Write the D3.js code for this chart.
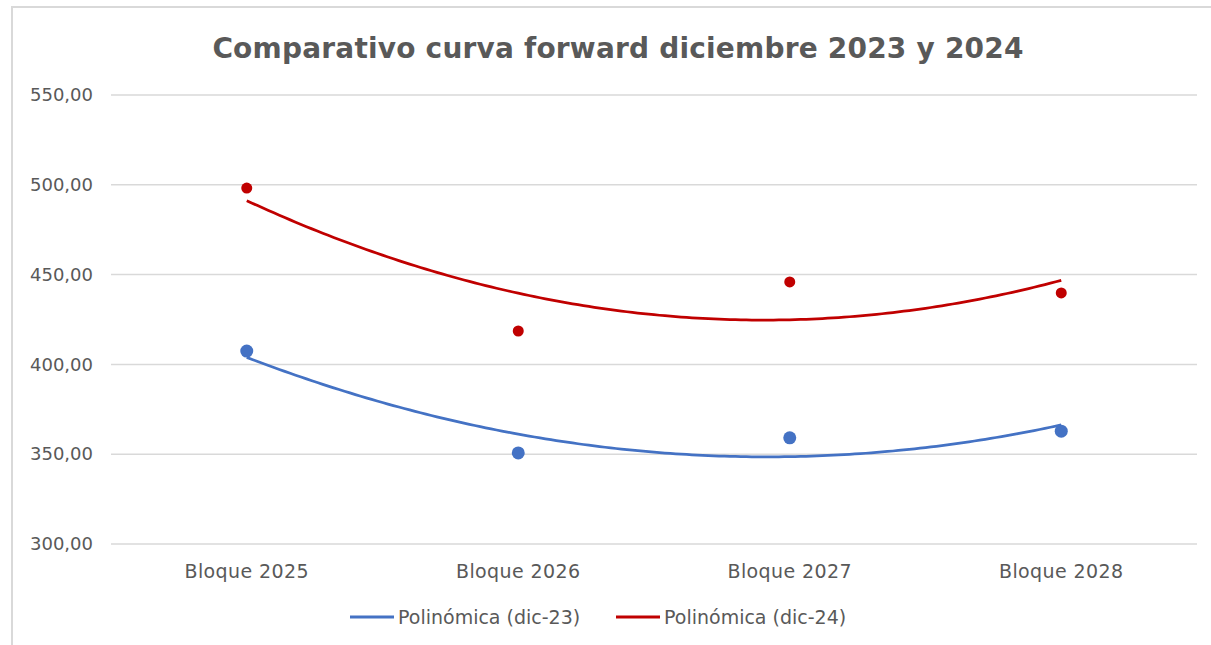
<!DOCTYPE html>
<html>
<head>
<meta charset="utf-8">
<script src="https://cdn.jsdelivr.net/npm/d3@7"></script>
<style>
  body { margin: 0; background: #fff; }
  text { font-family: "Century Gothic", "DejaVu Sans", sans-serif; }
</style>
</head>
<body>
<div class="chart"></div>
<script>
/* datos */
var categorias = ["Bloque 2025", "Bloque 2026", "Bloque 2027", "Bloque 2028"];
var dic23 = [407.4, 350.7, 359.1, 362.8];
var dic24 = [498.2, 418.6, 445.9, 439.8];
var yTicks = [300, 350, 400, 450, 500, 550];
var series = [
  { name: "Polinómica (dic-23)", values: dic23, color: "#4472c4", r: 6.5 },
  { name: "Polinómica (dic-24)", values: dic24, color: "#c00000", r: 5.5 }
];

var W = 1211, H = 645;
var svg = d3.select(".chart").append("svg")
    .attr("width", W)
    .attr("height", H);

/* marco */
svg.append("path")
    .attr("d", "M12,645 L12,7 L1211,7")
    .attr("fill", "none")
    .attr("stroke", "#d9d9d9")
    .attr("stroke-width", 2);

svg.append("text")
    .attr("x", 618)
    .attr("y", 58)
    .attr("text-anchor", "middle")
    .attr("font-size", 28)
    .attr("font-weight", "bold")
    .attr("letter-spacing", 0.2)
    .attr("fill", "#595959")
    .text("Comparativo curva forward diciembre 2023 y 2024");

var x = d3.scaleBand().domain(categorias).range([111, 1197]);
var y = d3.scaleLinear().domain([300, 550]).range([544, 95]);

/* rejilla */
svg.append("g").selectAll("line")
    .data(yTicks)
    .enter()
    .append("line")
    .attr("x1", 111)
    .attr("x2", 1197)
    .attr("y1", function(d) { return y(d); })
    .attr("y2", function(d) { return y(d); })
    .attr("stroke", "#d9d9d9")
    .attr("stroke-width", 1.5);

var fmt = function(d) { return d3.format(".2f")(d).replace(".", ","); };

var yAxis = svg.append("g")
    .attr("transform", "translate(93,0)")
    .call(d3.axisLeft(y).tickValues(yTicks).tickFormat(fmt).tickSize(0).tickPadding(0));
yAxis.select(".domain").remove();
yAxis.selectAll("text")
    .attr("font-size", 18)
    .attr("fill", "#595959");

var xAxis = svg.append("g")
    .attr("transform", "translate(0,556)")
    .call(d3.axisBottom(x).tickSize(0).tickPadding(9));
xAxis.select(".domain").remove();
xAxis.selectAll("text")
    .attr("font-size", 19)
    .attr("letter-spacing", 0.4)
    .attr("fill", "#595959");
svg.selectAll(".tick").attr("font-family", null).attr("font-size", null);

/* ajuste polinomico de grado 2 (linea de tendencia) */
function polyFit(vals) {
  var n = vals.length, ts = vals.map(function(v, i) { return i - (n - 1) / 2; });
  var mean = d3.mean(vals);
  var m2 = d3.mean(ts, function(s) { return s * s; });
  var q = ts.map(function(t) { return t * t - m2; });
  var b = d3.sum(ts, function(t, i) { return t * vals[i]; }) / d3.sum(ts, function(t) { return t * t; });
  var c = d3.sum(q, function(v, i) { return v * vals[i]; }) / d3.sum(q, function(v) { return v * v; });
  return function(i) {
    var t = i - (n - 1) / 2;
    return mean + b * t + c * (t * t - m2);
  };
}

var half = x.bandwidth() / 2;
var line = d3.line()
    .x(function(d) { return x(categorias[0]) + half + d.i * x.step(); })
    .y(function(d) { return y(d.v); });

series.forEach(function(s) {
  var f = polyFit(s.values);
  var pts = d3.range(0, categorias.length - 1 + 1e-9, 0.02).map(function(i) { return { i: i, v: f(i) }; });
  svg.append("path")
      .datum(pts)
      .attr("d", line)
      .attr("fill", "none")
      .attr("stroke", s.color)
      .attr("stroke-width", 2.75);

  svg.append("g").selectAll("circle")
      .data(s.values)
      .enter()
      .append("circle")
      .attr("cx", function(d, i) { return x(categorias[i]) + half; })
      .attr("cy", function(d) { return y(d); })
      .attr("r", s.r)
      .attr("fill", s.color);
});

/* leyenda */
var legend = svg.append("g").attr("transform", "translate(350,617)");
var lx = [0, 266];
series.forEach(function(s, k) {
  var g = legend.append("g").attr("transform", "translate(" + lx[k] + ",0)");
  g.append("line")
      .attr("x1", 0).attr("x2", 44)
      .attr("stroke", s.color)
      .attr("stroke-width", 3);
  g.append("text")
      .attr("x", 48)
      .attr("dy", "0.35em")
      .attr("font-size", 19)
      .attr("fill", "#595959")
      .text(s.name);
});
</script>
</body>
</html>
